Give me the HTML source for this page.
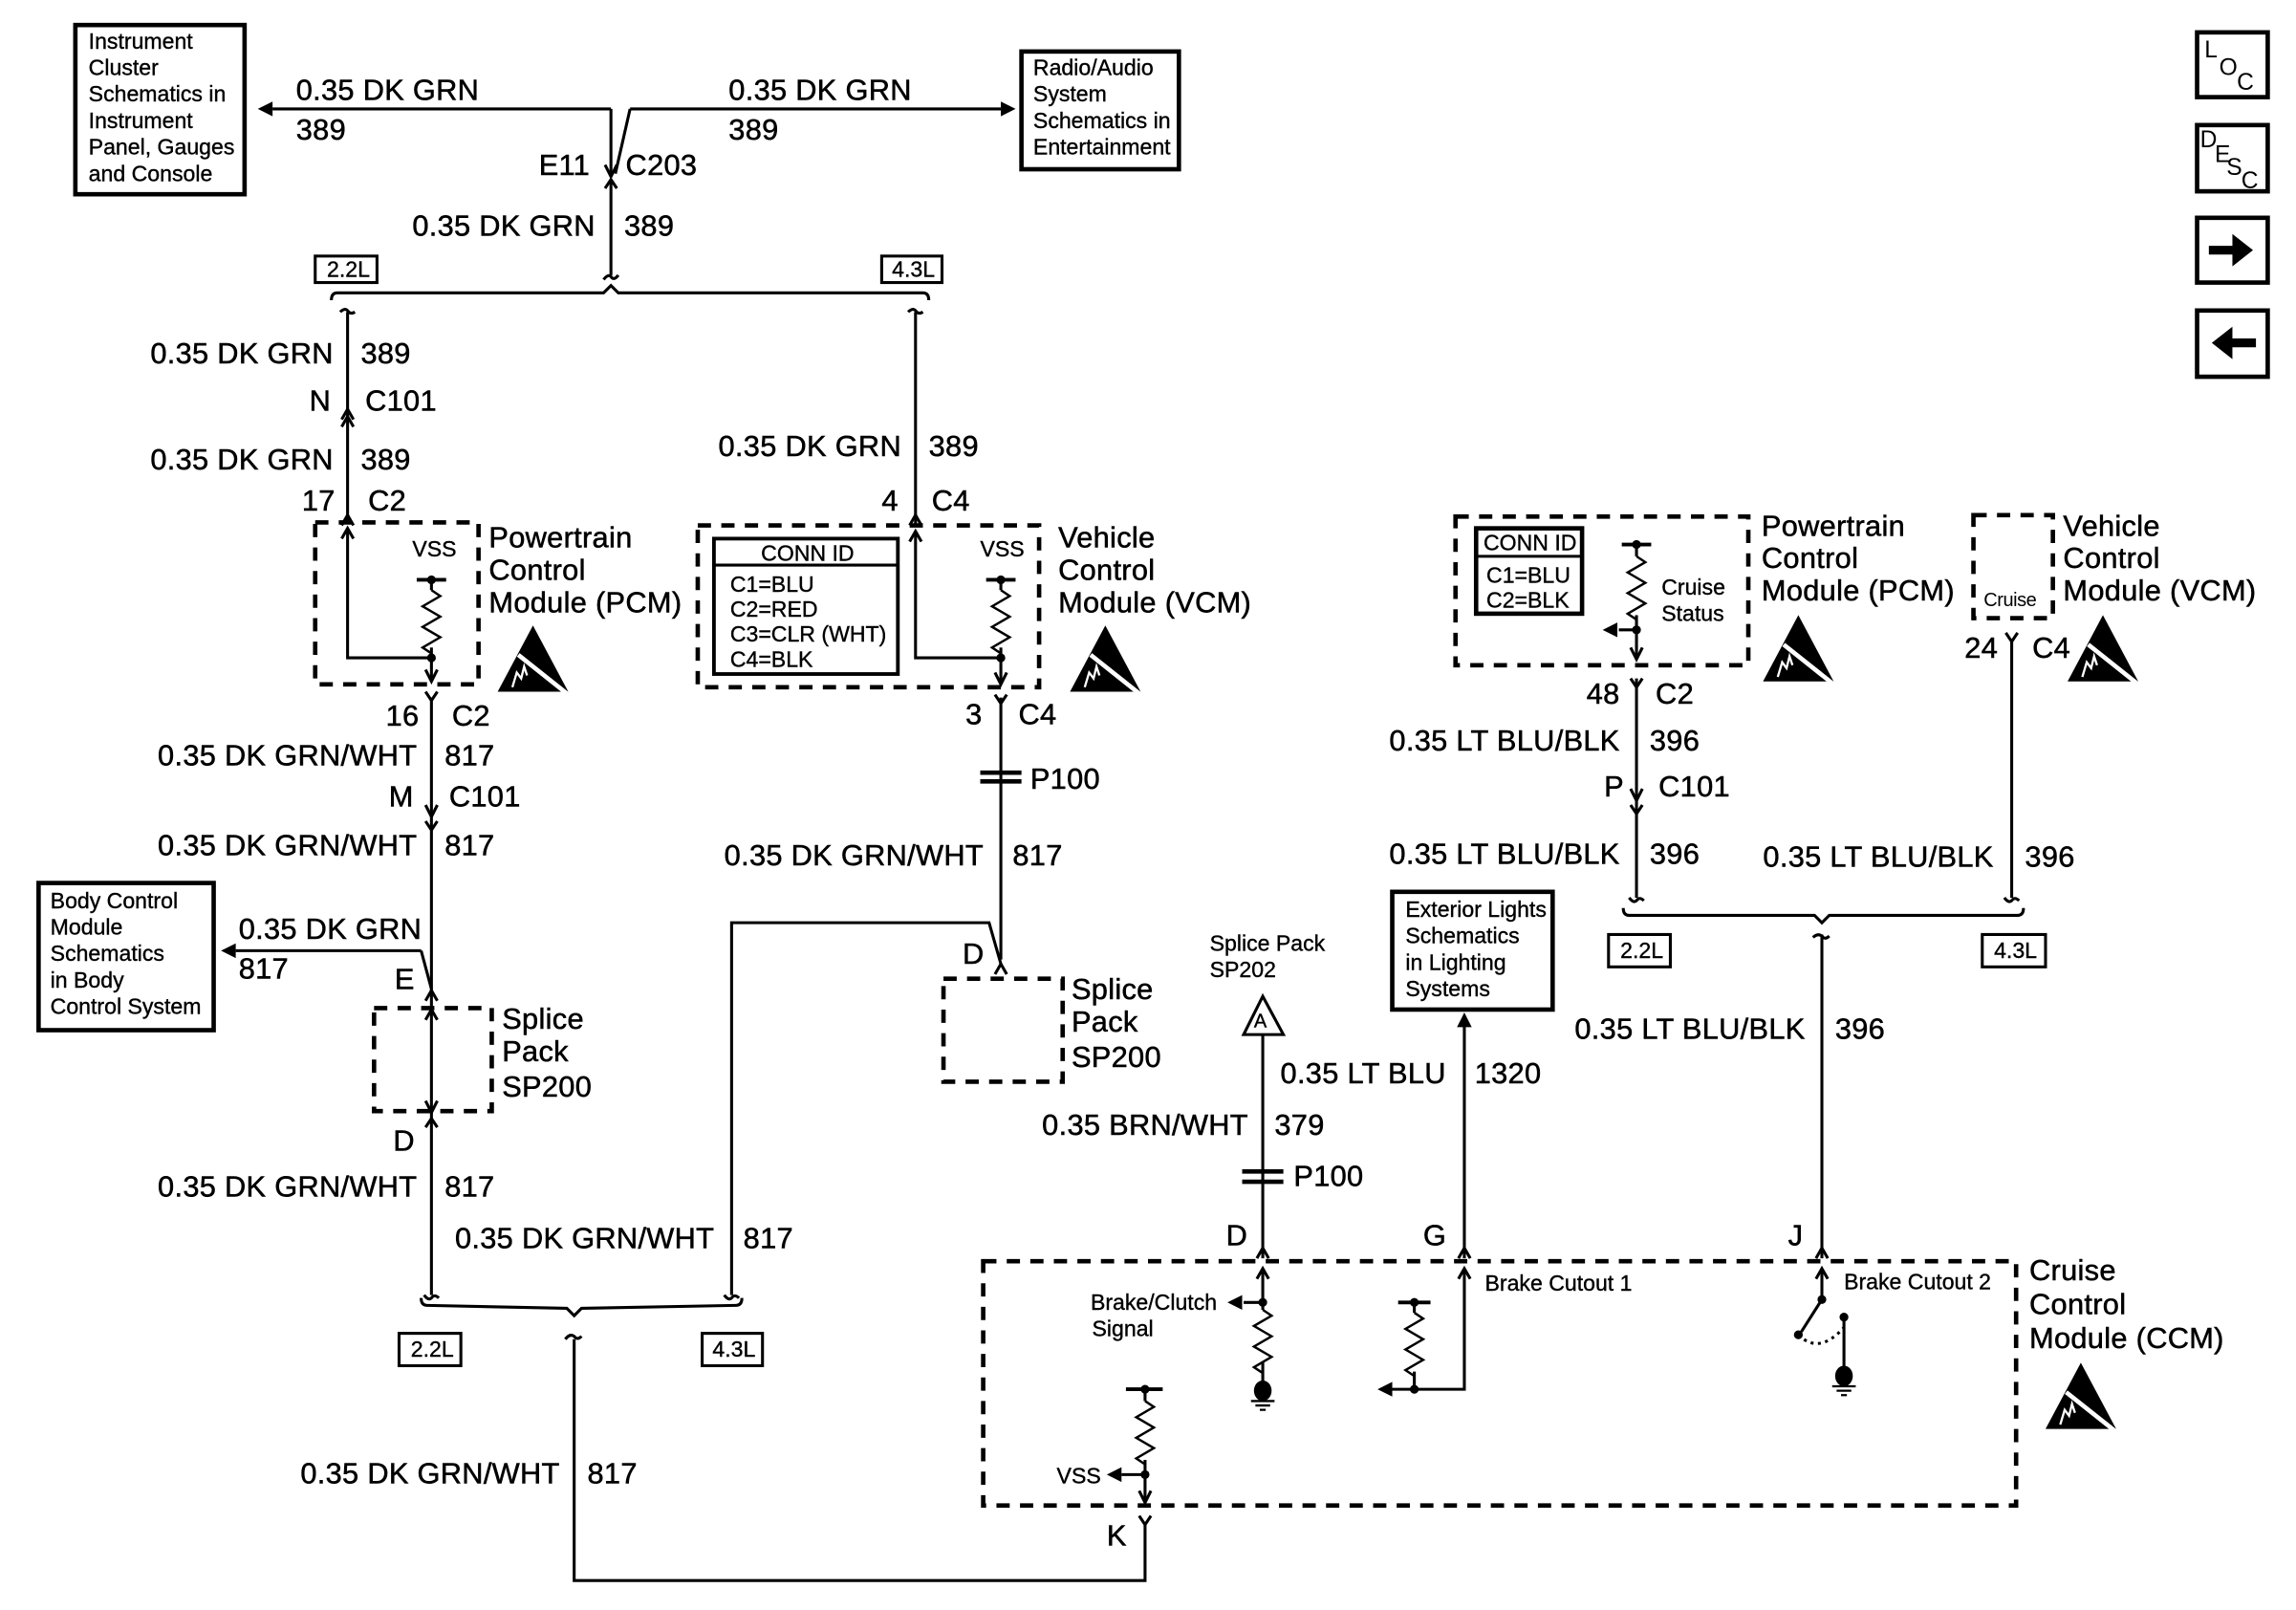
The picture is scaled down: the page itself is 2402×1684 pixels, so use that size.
<!DOCTYPE html>
<html><head><meta charset="utf-8"><style>
html,body{margin:0;padding:0;background:#fff}
svg{display:block}
text{font-family:"Liberation Sans",sans-serif;fill:#000}
.l{font-size:20px;letter-spacing:0.2px;stroke:#000;stroke-width:0.35px}
.s{font-size:15px;letter-spacing:0px;stroke:#000;stroke-width:0.25px}
.t{font-size:13px;letter-spacing:-0.3px}
</style></head><body>
<svg width="2402" height="1684" viewBox="0 0 1560 1094" xmlns="http://www.w3.org/2000/svg">
<defs>
<g id="esd"><polygon points="24,0 48,45 0,45" fill="#000"/><line x1="14" y1="20" x2="48" y2="47" stroke="#fff" stroke-width="3"/><path d="M10,42 l3,-10 l3,4 l2,-8 l2,6" stroke="#fff" stroke-width="1.5" fill="none"/></g>
<path id="zz" d="M0,0 l6,4 l-12,7 l12,7 l-12,7 l12,7 l-12,7 l6,4" fill="none" stroke="#000" stroke-width="1.6"/>
<polygon id="ahl" points="0,0 10,-5 10,5" fill="#000"/>
<polygon id="ahr" points="0,0 -10,-5 -10,5" fill="#000"/>
<polygon id="ahu" points="0,0 -5,10 5,10" fill="#000"/>
</defs>
<g stroke="#000" stroke-width="2" fill="none">
<rect x="51" y="17" width="115" height="115" stroke-width="3"/>
<rect x="694" y="35" width="107" height="80" stroke-width="3"/>
<line x1="415" y1="74" x2="185" y2="74"/>
<line x1="428" y1="74" x2="680" y2="74"/>
<line x1="428" y1="74" x2="418" y2="118"/>
<line x1="415" y1="74" x2="415" y2="120"/>
<polyline points="411,112 415,120 419,112"/>
<polyline points="411,128 415,122 419,128"/>
<line x1="415" y1="122" x2="415" y2="187"/>
<path d="M410,190 q3,-4 5,-2 q2,3 5,-1"/>
<rect x="214" y="174" width="42" height="18"/>
<rect x="599" y="174" width="41" height="18"/>
<path d="M225,204 q0,-5 4,-5 L410,199 L415,194 L420,199 L627,199 q4,0 4,5"/>
<path d="M231,212 q3,-3 5,-1 q2,3 5,1"/>
<path d="M617,212 q3,-3 5,-1 q2,3 5,1"/>
<line x1="236" y1="212" x2="236" y2="355"/>
<polyline points="232,290 236,283 240,290"/>
<polyline points="232,285 236,278 240,285"/>
<polyline points="232,357 236,350 240,357"/>
<rect x="214" y="355" width="111" height="110" stroke-dasharray="9,7" stroke-width="3"/>
<polyline points="236,360 236,447 293,447"/>
<polyline points="232,366 236,359 240,366"/>
<line x1="283" y1="394" x2="303" y2="394" stroke-width="2.5"/>
<line x1="293" y1="394" x2="293" y2="401"/>
<line x1="293" y1="440" x2="293" y2="462"/>
<polyline points="289,455 293,463 297,455"/>
<polyline points="289,470 293,476 297,470"/>
<line x1="622" y1="212" x2="622" y2="357"/>
<polyline points="618,357 622,350 626,357"/>
<rect x="474" y="357" width="232" height="110" stroke-dasharray="9,7" stroke-width="3"/>
<rect x="485" y="366" width="125" height="92" stroke-width="2.5"/>
<line x1="485" y1="384" x2="610" y2="384"/>
<polyline points="622,362 622,447 680,447"/>
<polyline points="618,368 622,361 626,368"/>
<line x1="670" y1="394" x2="690" y2="394" stroke-width="2.5"/>
<line x1="680" y1="394" x2="680" y2="401"/>
<line x1="680" y1="440" x2="680" y2="464"/>
<polyline points="676,457 680,465 684,457"/>
<polyline points="676,472 680,478 684,472"/>
<line x1="680" y1="474" x2="680" y2="652"/>
<path d="M666,525 h28 M666,531 h28" stroke-width="3"/>
<line x1="293" y1="474" x2="293" y2="880"/>
<polyline points="289,547 293,555 297,547"/>
<polyline points="289,558 293,564 297,558"/>
<rect x="26" y="600" width="119" height="100" stroke-width="3"/>
<line x1="286" y1="646" x2="160" y2="646"/>
<line x1="286" y1="646" x2="293" y2="672"/>
<polyline points="289,680 293,673 297,680"/>
<rect x="254" y="685" width="80" height="70" stroke-dasharray="9,7" stroke-width="3"/>
<polyline points="289,693 293,686 297,693"/>
<polyline points="289,748 293,756 297,748"/>
<polyline points="289,766 293,760 297,766"/>
<path d="M288,880 q3,4 5,2 q2,-3 5,0"/>
<polyline points="497,880 497,627 672,627 680,655"/>
<polyline points="676,662 680,655 684,662"/>
<rect x="641" y="665" width="81" height="70" stroke-dasharray="9,7" stroke-width="3"/>
<path d="M492,880 q3,4 5,2 q2,-3 5,0"/>
<path d="M286,880 q0,5 4,5 L385,887 L390,892 L395,887 L500,885 q4,0 4,-5" transform="translate(0,2)"/>
<rect x="271" y="906" width="42" height="22"/>
<rect x="477" y="906" width="41" height="22"/>
<path d="M384,910 q3,-4 6,-2 q2,3 5,0"/>
<polyline points="390,910 390,1074 778,1074 778,1036"/>
<polyline points="774,1030 778,1036 782,1030"/>
<rect x="668" y="857" width="702" height="166" stroke-dasharray="9,7" stroke-width="3"/>
<line x1="858" y1="703" x2="858" y2="855"/>
<polygon points="858,677 845,703 872,703"/>
<path d="M844,796 h28 M844,803 h28" stroke-width="3"/>
<polyline points="854,855 858,848 862,855"/>
<line x1="858" y1="862" x2="858" y2="890"/>
<polyline points="854,869 858,862 862,869"/>
<line x1="858" y1="885" x2="845" y2="885"/>
<line x1="858" y1="925" x2="858" y2="940"/>
<rect x="946" y="606" width="109" height="80" stroke-width="3"/>
<line x1="995" y1="695" x2="995" y2="855"/>
<polyline points="991,855 995,848 999,855"/>
<polyline points="995,862 995,944 946,944"/>
<polyline points="991,869 995,862 999,869"/>
<line x1="950" y1="885" x2="972" y2="885" stroke-width="2.5"/>
<line x1="961" y1="885" x2="961" y2="892"/>
<line x1="961" y1="932" x2="961" y2="944"/>
<line x1="1238" y1="635" x2="1238" y2="855"/>
<polyline points="1234,855 1238,848 1242,855"/>
<line x1="1238" y1="862" x2="1238" y2="883"/>
<polyline points="1234,869 1238,862 1242,869"/>
<line x1="1238" y1="883" x2="1224" y2="905"/>
<path d="M1222,907 q14,14 31,-5" stroke-dasharray="2,3"/>
<line x1="1253" y1="895" x2="1253" y2="930"/>
<line x1="765" y1="944" x2="790" y2="944" stroke-width="2.5"/>
<line x1="778" y1="944" x2="778" y2="952"/>
<line x1="778" y1="992" x2="778" y2="1020"/>
<line x1="778" y1="1002" x2="762" y2="1002"/>
<polyline points="774,1013 778,1021 782,1013"/>
<rect x="989" y="351" width="199" height="101" stroke-dasharray="9,7" stroke-width="3"/>
<rect x="1003" y="359" width="72" height="58" stroke-width="3"/>
<line x1="1003" y1="378" x2="1075" y2="378"/>
<line x1="1102" y1="370" x2="1122" y2="370" stroke-width="2.5"/>
<line x1="1112" y1="370" x2="1112" y2="378"/>
<line x1="1112" y1="418" x2="1112" y2="447"/>
<line x1="1112" y1="428" x2="1100" y2="428"/>
<polyline points="1108,440 1112,448 1116,440"/>
<polyline points="1108,461 1112,467 1116,461"/>
<line x1="1112" y1="461" x2="1112" y2="610"/>
<polyline points="1108,536 1112,544 1116,536"/>
<polyline points="1108,547 1112,553 1116,547"/>
<rect x="1341" y="350" width="54" height="70" stroke-dasharray="9,7" stroke-width="3"/>
<polyline points="1363,430 1367,436 1371,430"/>
<line x1="1367" y1="435" x2="1367" y2="610"/>
<path d="M1107,610 q3,4 5,2 q2,-3 5,0"/>
<path d="M1362,610 q3,4 5,2 q2,-3 5,0"/>
<path d="M1103,617 q0,5 4,5 L1233,622 L1238,627 L1243,622 L1371,622 q4,0 4,-5"/>
<path d="M1232,637 q3,-3 6,-1 q2,3 5,0"/>
<rect x="1093" y="635" width="42" height="22"/>
<rect x="1347" y="635" width="43" height="22"/>
<rect x="1493" y="22" width="48" height="44" stroke-width="3"/>
<rect x="1493" y="85" width="48" height="45" stroke-width="3"/>
<rect x="1493" y="148" width="48" height="44" stroke-width="3"/>
<rect x="1493" y="211" width="48" height="45" stroke-width="3"/>
</g>
<use href="#zz" x="293" y="401"/>
<use href="#zz" x="680" y="401"/>
<use href="#zz" x="1112" y="378"/>
<use href="#zz" x="858" y="890"/>
<use href="#zz" x="961" y="892"/>
<use href="#zz" x="778" y="952"/>
<use href="#ahl" x="175" y="74"/>
<use href="#ahr" x="690" y="74"/>
<use href="#ahl" x="150" y="646"/>
<use href="#ahl" x="834" y="885"/>
<use href="#ahl" x="936" y="944"/>
<use href="#ahl" x="1089" y="428"/>
<use href="#ahl" x="752" y="1002"/>
<use href="#ahu" x="995" y="688"/>
<g fill="#000">
<circle cx="293" cy="447" r="3"/><circle cx="680" cy="447" r="3"/>
<circle cx="293" cy="394" r="3"/><circle cx="680" cy="394" r="3"/>
<circle cx="1112" cy="370" r="3"/><circle cx="1112" cy="428" r="3"/>
<circle cx="858" cy="885" r="3"/><circle cx="961" cy="885" r="3"/><circle cx="961" cy="944" r="3"/>
<circle cx="1238" cy="883" r="3"/><circle cx="1222" cy="907" r="3"/><circle cx="1253" cy="895" r="3"/>
<circle cx="778" cy="944" r="3"/><circle cx="778" cy="1002" r="3"/>
<ellipse cx="858" cy="945" rx="6" ry="7"/><ellipse cx="1253" cy="935" rx="6" ry="7"/>
<polygon points="1501,167 1517,167 1517,159 1531,170 1517,181 1517,173 1501,173"/>
<polygon points="1533,230 1517,230 1517,222 1503,233 1517,244 1517,236 1533,236"/>
</g>
<g stroke="#000" stroke-width="1.5">
<path d="M850,952 h16 M853,955 h10 M856,958 h4"/>
<path d="M1245,942 h16 M1248,945 h10 M1251,948 h4"/>
</g>
<use href="#esd" x="338" y="425"/>
<use href="#esd" x="727" y="425"/>
<use href="#esd" x="1198" y="418"/>
<use href="#esd" x="1405" y="418"/>
<use href="#esd" x="1390" y="926"/>
<g class="s">
<text x="60" y="33">Instrument</text><text x="60" y="51">Cluster</text><text x="60" y="69">Schematics in</text><text x="60" y="87">Instrument</text><text x="60" y="105">Panel, Gauges</text><text x="60" y="123">and Console</text>
<text x="702" y="51">Radio/Audio</text><text x="702" y="69">System</text><text x="702" y="87">Schematics in</text><text x="702" y="105">Entertainment</text>
<text x="34" y="617">Body Control</text><text x="34" y="635">Module</text><text x="34" y="653">Schematics</text><text x="34" y="671">in Body</text><text x="34" y="689">Control System</text>
<text x="955" y="623">Exterior Lights</text><text x="955" y="641">Schematics</text><text x="955" y="659">in Lighting</text><text x="955" y="677">Systems</text>
<text x="822" y="646">Splice Pack</text><text x="822" y="664">SP202</text>
<text x="517" y="381">CONN ID</text><text x="496" y="402">C1=BLU</text><text x="496" y="419">C2=RED</text><text x="496" y="436">C3=CLR (WHT)</text><text x="496" y="453">C4=BLK</text>
<text x="1008" y="374">CONN ID</text><text x="1010" y="396">C1=BLU</text><text x="1010" y="413">C2=BLK</text>
<text x="280" y="378">VSS</text><text x="666" y="378">VSS</text>
<text x="1129" y="404">Cruise</text><text x="1129" y="422">Status</text>
<text x="741" y="890">Brake/Clutch</text><text x="742" y="908">Signal</text>
<text x="1009" y="877">Brake Cutout 1</text><text x="1253" y="876">Brake Cutout 2</text>
<text x="718" y="1008">VSS</text>
<text x="852" y="698" font-size="13">A</text>
<text x="222" y="188">2.2L</text><text x="606" y="188">4.3L</text>
<text x="279" y="922">2.2L</text><text x="484" y="922">4.3L</text>
<text x="1101" y="651">2.2L</text><text x="1355" y="651">4.3L</text>
</g>
<text class="t" x="1348" y="412">Cruise</text>
<g class="l">
<text x="201" y="68">0.35 DK GRN</text><text x="201" y="95">389</text>
<text x="495" y="68">0.35 DK GRN</text><text x="495" y="95">389</text>
<text x="366" y="119">E11</text><text x="425" y="119">C203</text>
<text x="280" y="160">0.35 DK GRN</text><text x="424" y="160">389</text>
<text x="102" y="247">0.35 DK GRN</text><text x="245" y="247">389</text>
<text x="210" y="279">N</text><text x="248" y="279">C101</text>
<text x="102" y="319">0.35 DK GRN</text><text x="245" y="319">389</text>
<text x="205" y="347">17</text><text x="250" y="347">C2</text>
<text x="488" y="310">0.35 DK GRN</text><text x="631" y="310">389</text>
<text x="599" y="347">4</text><text x="633" y="347">C4</text>
<text x="332" y="372">Powertrain</text><text x="332" y="394">Control</text><text x="332" y="416">Module (PCM)</text>
<text x="719" y="372">Vehicle</text><text x="719" y="394">Control</text><text x="719" y="416">Module (VCM)</text>
<text x="262" y="493">16</text><text x="307" y="493">C2</text>
<text x="107" y="520">0.35 DK GRN/WHT</text><text x="302" y="520">817</text>
<text x="264" y="548">M</text><text x="305" y="548">C101</text>
<text x="107" y="581">0.35 DK GRN/WHT</text><text x="302" y="581">817</text>
<text x="162" y="638">0.35 DK GRN</text><text x="162" y="665">817</text>
<text x="268" y="672">E</text>
<text x="341" y="699">Splice</text><text x="341" y="721">Pack</text><text x="341" y="745">SP200</text>
<text x="267" y="782">D</text>
<text x="107" y="813">0.35 DK GRN/WHT</text><text x="302" y="813">817</text>
<text x="309" y="848">0.35 DK GRN/WHT</text><text x="505" y="848">817</text>
<text x="656" y="492">3</text><text x="692" y="492">C4</text>
<text x="700" y="536">P100</text>
<text x="492" y="588">0.35 DK GRN/WHT</text><text x="688" y="588">817</text>
<text x="654" y="655">D</text>
<text x="728" y="679">Splice</text><text x="728" y="701">Pack</text><text x="728" y="725">SP200</text>
<text x="204" y="1008">0.35 DK GRN/WHT</text><text x="399" y="1008">817</text>
<text x="752" y="1050">K</text>
<text x="870" y="736">0.35 LT BLU</text><text x="1002" y="736">1320</text>
<text x="708" y="771">0.35 BRN/WHT</text><text x="866" y="771">379</text>
<text x="879" y="806">P100</text>
<text x="833" y="846">D</text><text x="967" y="846">G</text><text x="1215" y="846">J</text>
<text x="1070" y="706">0.35 LT BLU/BLK</text><text x="1247" y="706">396</text>
<text x="1379" y="870">Cruise</text><text x="1379" y="893">Control</text><text x="1379" y="916">Module (CCM)</text>
<text x="1197" y="364">Powertrain</text><text x="1197" y="386">Control</text><text x="1197" y="408">Module  (PCM)</text>
<text x="1402" y="364">Vehicle</text><text x="1402" y="386">Control</text><text x="1402" y="408">Module  (VCM)</text>
<text x="1335" y="447">24</text><text x="1381" y="447">C4</text>
<text x="1078" y="478">48</text><text x="1125" y="478">C2</text>
<text x="944" y="510">0.35 LT BLU/BLK</text><text x="1121" y="510">396</text>
<text x="1090" y="541">P</text><text x="1127" y="541">C101</text>
<text x="944" y="587">0.35 LT BLU/BLK</text><text x="1121" y="587">396</text>
<text x="1198" y="589">0.35 LT BLU/BLK</text><text x="1376" y="589">396</text>
</g>
<g font-family="Liberation Sans" font-size="16">
<text x="1498" y="39">L</text><text x="1508" y="51">O</text><text x="1520" y="61">C</text>
<text x="1495" y="100">D</text><text x="1505" y="110">E</text><text x="1513" y="119">S</text><text x="1523" y="128">C</text>
</g>
</svg>
</body></html>
